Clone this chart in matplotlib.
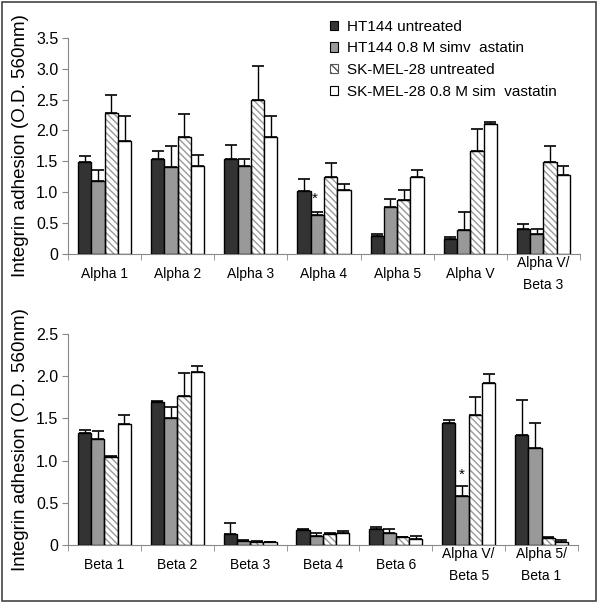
import matplotlib
matplotlib.use("Agg")
import matplotlib.pyplot as plt
import numpy as np
from matplotlib.patches import Rectangle

plt.rcParams["font.family"] = ["Liberation Sans", "DejaVu Sans"]

series = [
    "HT144 untreated",
    "HT144 0.8 M simv  astatin",
    "SK-MEL-28 untreated",
    "SK-MEL-28 0.8 M sim  vastatin",
]

top_labels = ["Alpha 1", "Alpha 2", "Alpha 3", "Alpha 4", "Alpha 5", "Alpha V", "Alpha V/\nBeta 3"]
top_ht_untr = [1.49, 1.53, 1.53, 1.02, 0.30, 0.24, 0.40]
top_ht_simv = [1.19, 1.41, 1.43, 0.63, 0.76, 0.39, 0.32]
top_sk_untr = [2.29, 1.90, 2.50, 1.24, 0.87, 1.66, 1.49]
top_sk_simv = [1.83, 1.43, 1.89, 1.04, 1.24, 2.10, 1.28]
top_err_ht_untr = [0.09, 0.13, 0.24, 0.20, 0.03, 0.04, 0.09]
top_err_ht_simv = [0.17, 0.34, 0.11, 0.05, 0.13, 0.29, 0.08]
top_err_sk_untr = [0.29, 0.37, 0.54, 0.24, 0.17, 0.36, 0.26]
top_err_sk_simv = [0.40, 0.18, 0.35, 0.10, 0.12, 0.03, 0.15]

bot_labels = ["Beta 1", "Beta 2", "Beta 3", "Beta 4", "Beta 6", "Alpha V/\nBeta 5", "Alpha 5/\nBeta 1"]
bot_ht_untr = [1.33, 1.69, 0.13, 0.18, 0.19, 1.45, 1.30]
bot_ht_simv = [1.26, 1.50, 0.05, 0.11, 0.14, 0.58, 1.15]
bot_sk_untr = [1.04, 1.77, 0.04, 0.13, 0.10, 1.54, 0.08]
bot_sk_simv = [1.43, 2.05, 0.03, 0.14, 0.07, 1.92, 0.04]
bot_err_ht_untr = [0.03, 0.01, 0.13, 0.01, 0.02, 0.03, 0.42]
bot_err_ht_simv = [0.09, 0.14, 0.01, 0.03, 0.05, 0.12, 0.29]
bot_err_sk_untr = [0.02, 0.27, 0.01, 0.01, 0.00, 0.21, 0.02]
bot_err_sk_simv = [0.11, 0.07, 0.01, 0.02, 0.04, 0.11, 0.02]

colors = ["#333333", "#999999", "white", "white"]
hatches = [None, None, "\\\\\\\\\\", None]
AXIS_GREY = "#888888"
HATCH_GREY = "#9a9a9a"


def draw_panel(ax, labels, vals, errs, ymax, yticks, yticklabels):
    x = np.arange(len(labels))
    w = 0.182
    offsets = [-1.5 * w, -0.5 * w, 0.5 * w, 1.5 * w]
    for i in range(4):
        xi = x + offsets[i]
        if hatches[i]:
            ax.bar(xi, vals[i], w, color="white", edgecolor=HATCH_GREY,
                   hatch=hatches[i], linewidth=0, zorder=2)
            ax.bar(xi, vals[i], w, fill=False, edgecolor="black",
                   linewidth=1.0, zorder=3)
        else:
            ax.bar(xi, vals[i], w, color=colors[i], edgecolor="black",
                   linewidth=1.0, zorder=3)
        ax.errorbar(xi, vals[i], yerr=[np.zeros(len(x)), errs[i]], fmt="none",
                    ecolor="black", elinewidth=1.0, capsize=4, capthick=1.2,
                    zorder=1)
    ax.set_xlim(-0.5, len(labels) - 0.5)
    ax.set_ylim(0, ymax)
    ax.set_yticks(yticks)
    ax.set_yticklabels(yticklabels)
    ax.set_xticks(x)
    ax.set_xticklabels(labels, linespacing=1.75, va="center")
    ax.set_xticks(np.arange(len(labels) + 1) - 0.5, minor=True)
    ax.tick_params(axis="x", which="major", length=0, pad=14.5, labelsize=10)
    ax.tick_params(axis="x", which="minor", length=4, color=AXIS_GREY)
    ax.tick_params(axis="y", length=4, color=AXIS_GREY, labelsize=11.5, pad=3)
    for s in ["top", "right"]:
        ax.spines[s].set_visible(False)
    for s in ["left", "bottom"]:
        ax.spines[s].set_color(AXIS_GREY)
    ax.set_ylabel("Integrin adhesion (O.D. 560nm)", fontsize=13.5, labelpad=5)


fig = plt.figure(figsize=(6.0, 6.05), dpi=100)
fig.patches.append(Rectangle((0.004, 0.006), 0.99, 0.99, transform=fig.transFigure,
                             fill=False, edgecolor="#444444", linewidth=1.2))

ax1 = fig.add_axes([0.1133, 0.580, 0.8534, 0.3577])
draw_panel(ax1, top_labels,
           [top_ht_untr, top_ht_simv, top_sk_untr, top_sk_simv],
           [top_err_ht_untr, top_err_ht_simv, top_err_sk_untr, top_err_sk_simv],
           3.5, np.arange(0, 3.51, 0.5),
           ["0", "0.5", "1.0", "1.5", "2.0", "2.5", "3.0", "3.5"])
ax1.text(3 - 0.5 * 0.182 - 0.04, 0.90, "*", ha="center", va="center", fontsize=11)

ax2 = fig.add_axes([0.1133, 0.0992, 0.850, 0.3488])
draw_panel(ax2, bot_labels,
           [bot_ht_untr, bot_ht_simv, bot_sk_untr, bot_sk_simv],
           [bot_err_ht_untr, bot_err_ht_simv, bot_err_sk_untr, bot_err_sk_simv],
           2.5, np.arange(0, 2.51, 0.5),
           ["0", "0.5", "1.0", "1.5", "2.0", "2.5"])
ax2.text(5 - 0.5 * 0.182, 0.83, "*", ha="center", va="center", fontsize=11)

handles = [
    Rectangle((0, 0), 1, 1, facecolor=colors[0], edgecolor="black", linewidth=0.8),
    Rectangle((0, 0), 1, 1, facecolor=colors[1], edgecolor="black", linewidth=0.8),
    Rectangle((0, 0), 1, 1, facecolor="white", edgecolor="#555555", hatch="\\\\\\\\",
              linewidth=0.8),
    Rectangle((0, 0), 1, 1, facecolor="white", edgecolor="black", linewidth=0.8),
]
fig.legend(handles, series, loc="upper left", bbox_to_anchor=(0.537, 0.980),
           frameon=False, fontsize=11, handlelength=0.55, handleheight=0.55,
           handletextpad=0.6, labelspacing=0.5, borderpad=0)

fig.savefig("out.png", dpi=100)
